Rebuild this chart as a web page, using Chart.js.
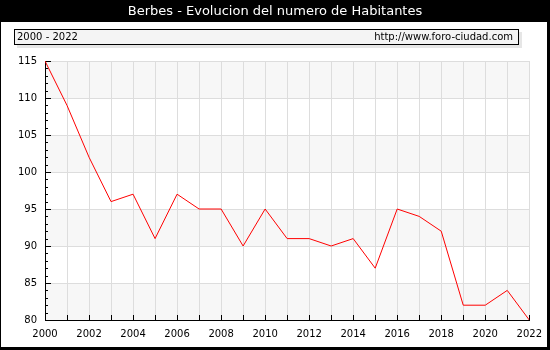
<!DOCTYPE html>
<html>
<head>
<meta charset="utf-8">
<script src="https://cdn.jsdelivr.net/npm/chart.js@4/dist/chart.umd.min.js"></script>
<style>
  html, body { margin: 0; padding: 0; background: #000; }
  #wrap { width: 550px; height: 350px; }
</style>
</head>
<body>
<div id="wrap"><canvas id="chart" width="550" height="350"></canvas></div>
<script>
const years = [2000, 2001, 2002, 2003, 2004, 2005, 2006, 2007, 2008, 2009, 2010, 2011,
  2012, 2013, 2014, 2015, 2016, 2017, 2018, 2019, 2020, 2021, 2022];
const habitantes = [115, 109, 102, 96, 97, 91, 97, 95, 95, 90, 95, 91,
  91, 90, 91, 87, 95, 94, 92, 82, 82, 84, 80];
const titleText = 'Berbes - Evolucion del numero de Habitantes';
const periodText = '2000 - 2022';
const siteText = 'http://www.foro-ciudad.com';
const yMin = 80, yMax = 115;

const FONT = '"DejaVu Sans", Verdana, sans-serif';

// frame, title, header box and grey bands
const framePlugin = {
  id: 'frame',
  beforeDraw(chart) {
    const ctx = chart.ctx;
    const area = chart.chartArea;
    const y = chart.scales.y;
    ctx.save();
    ctx.fillStyle = '#000';
    ctx.fillRect(0, 0, 550, 350);
    ctx.fillStyle = '#fff';
    ctx.fillRect(1, 22, 546, 325);

    ctx.fillStyle = '#fff';
    ctx.font = '13px ' + FONT;
    ctx.textAlign = 'center';
    ctx.textBaseline = 'middle';
    ctx.fillText(titleText, 275, 12);

    // header box with shadow
    ctx.fillStyle = '#e6e6e6';
    ctx.fillRect(17, 32, 505, 16);
    ctx.fillStyle = '#f4f4f4';
    ctx.fillRect(14, 29, 505, 16);
    ctx.strokeStyle = '#000';
    ctx.lineWidth = 1;
    ctx.strokeRect(14.5, 29.5, 504, 15);
    ctx.fillStyle = '#000';
    ctx.font = '10px ' + FONT;
    ctx.textAlign = 'left';
    ctx.fillText(periodText, 17, 37.5);
    ctx.textAlign = 'right';
    ctx.fillText(siteText, 513, 37.5);

    // alternating bands
    ctx.fillStyle = '#f7f7f7';
    for (let v = yMin; v < yMax; v += 10) {
      const top = y.getPixelForValue(v + 5);
      const bot = y.getPixelForValue(v);
      ctx.fillRect(area.left, top, area.right - area.left, bot - top);
    }
    ctx.restore();
  },
  beforeDatasetsDraw(chart) {
    const ctx = chart.ctx;
    const area = chart.chartArea;
    const x = chart.scales.x;
    const y = chart.scales.y;
    ctx.save();
    ctx.strokeStyle = '#000';
    ctx.lineWidth = 1;
    ctx.beginPath();
    for (let v = yMin; v <= yMax; v++) {
      const py = Math.round(y.getPixelForValue(v)) + 0.5;
      const len = v % 5 === 0 ? 6 : 3;
      ctx.moveTo(area.left, py);
      ctx.lineTo(area.left + len, py);
    }
    years.forEach(yr => {
      const px = Math.round(x.getPixelForValue(yr)) + 0.5;
      ctx.moveTo(px, area.bottom);
      ctx.lineTo(px, area.bottom - 5);
    });
    ctx.stroke();
    ctx.restore();
  }
};

new Chart(document.getElementById('chart'), {
  type: 'line',
  data: {
    datasets: [{
      data: years.map((yr, i) => ({ x: yr, y: habitantes[i] })),
      borderColor: '#ff0000',
      borderWidth: 1,
      pointRadius: 0,
      tension: 0,
      fill: false
    }]
  },
  options: {
    responsive: false,
    animation: false,
    layout: { padding: { top: 61, right: 14, bottom: 0, left: 0 } },
    plugins: { legend: { display: false }, tooltip: { enabled: false } },
    scales: {
      x: {
        type: 'linear',
        min: 2000,
        max: 2022,
        afterFit: s => { s.height = 30; },
        grid: { color: '#dddddd', drawTicks: false },
        border: { color: '#000', width: 1 },
        ticks: {
          stepSize: 1,
          autoSkip: false,
          maxRotation: 0,
          padding: 8,
          color: '#000',
          font: { family: FONT, size: 10 },
          callback: v => (v % 2 === 0 ? String(v) : '')
        }
      },
      y: {
        min: yMin,
        max: yMax,
        afterFit: s => { s.width = 45; },
        grid: { color: '#dddddd', drawTicks: false },
        border: { color: '#000', width: 1 },
        ticks: {
          stepSize: 5,
          padding: 8,
          color: '#000',
          font: { family: FONT, size: 10 }
        }
      }
    }
  },
  plugins: [framePlugin]
});
</script>
</body>
</html>
